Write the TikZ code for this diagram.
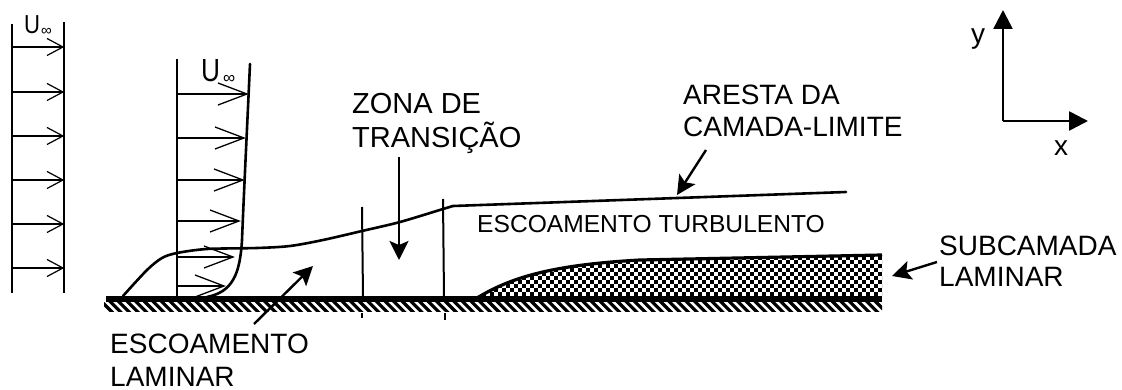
\documentclass[tikz,border=0pt]{standalone}
\usepackage{fontspec}
\setmainfont{Liberation Sans}
\usetikzlibrary{arrows.meta}
\tikzset{
  lbl/.style={inner sep=0pt,anchor=base west,align=left,font=\fontsize{28}{32}\selectfont},
  small/.style={inner sep=0pt,anchor=base west,font=\fontsize{24.6}{28}\selectfont},
  zone/.style={inner sep=0pt,anchor=base west,font=\fontsize{29}{33}\selectfont},
  inf/.style={inner sep=0pt,anchor=base west,font=\fontsize{15}{15}\selectfont},
  frame/.style={line width=2pt},
  flow/.style={line width=1.2pt},
  flowb/.style={line width=1.3pt},
  curve/.style={line width=2.6pt,line cap=round},
  pointer/.style={line width=2.4pt,-{Stealth[length=19pt,width=19pt,inset=4pt]}},
  axis/.style={line width=2.6pt,-{Triangle[length=19pt,width=19pt]}}
}
\begin{document}
\begin{tikzpicture}[x=1pt,y=-1pt]
\useasboundingbox (0,0) rectangle (1122,390);
% left free-stream profile
\draw[frame] (12,24) -- (12,293);
\draw[frame] (64,22) -- (64,293);
\foreach \yy in {47,92,136,180,224,268}{
  \draw[flow] (12,\yy) -- (63,\yy);
  \draw[flow] (47,\yy-8.5) -- (63,\yy) -- (47,\yy+8.5);
}
\node[inner sep=0pt,anchor=base west,font=\fontsize{26}{26}\selectfont] (u1) at (24,34) {\scalebox{.85}[1]{U}};
\node[inf] (u1i) at (41,36) {∞};
% developing profile
\draw[frame] (176.5,59) -- (176.5,297);
\draw[curve] (250,64) .. controls (247,130) and (244,190) .. (242,240) .. controls (240,275) and (232,292) .. (207,297);
\foreach \yy/\xe in {94/247,138/244,180/243,221/239,257/233,286/224}{
  \draw[flowb] (176,\yy) -- (\xe,\yy);
  \draw[flowb] (\xe-29,\yy-11) -- (\xe,\yy) -- (\xe-29,\yy+11);
}
\node[inner sep=0pt,anchor=base west,font=\fontsize{32}{32}\selectfont] (u2) at (201,82) {\scalebox{.82}[1]{U}};
\node[inner sep=0pt,anchor=base west,font=\fontsize{17}{17}\selectfont] (u2i) at (223,84) {∞};
% boundary-layer edge
\draw[curve] plot[smooth,tension=.5] coordinates {(123,296) (147,270) (162,258) (177,253) (207,249) (257,248) (290,246) (323,240) (362,231) (400,222) (443,209) (453,206)} -- (846,192);
% transition verticals
\draw[frame] (362,207) -- (363,297);
\draw[frame] (443,199) -- (444,297);
\draw[frame] (362,313) -- (362,318);
\draw[frame] (445,313) -- (445,320);
% checker layer
\begin{scope}
\clip (477,298) .. controls (510,278) and (550,265) .. (640,260) -- (882,255) -- (882,298) -- cycle;
\foreach \i in {0,...,13}{
  \pgfmathtruncatemacro{\off}{mod(\i,2)}
  \ifnum\off=0
    \draw[line width=4pt,dash pattern=on 4pt off 4pt] (470,{250+4*\i}) -- (884,{250+4*\i});
  \else
    \draw[line width=4pt,dash pattern=on 4pt off 4pt,dash phase=4pt] (470,{250+4*\i}) -- (884,{250+4*\i});
  \fi
}
\end{scope}
\draw[line width=3.2pt] (477,298) .. controls (510,278) and (550,265) .. (640,260) -- (882,255);
% wall
\fill (106,296) rectangle (882,302);
\begin{scope}
\clip (104,302) rectangle (882,311);
\foreach \xx in {100,108.6,...,892}
  \draw[line width=3.2pt] (\xx,300) -- (\xx+13,313);
\end{scope}
% labels
\node[lbl] (a1) at (683,105) {ARESTA DA};
\node[lbl] (a2) at (683,137) {CAMADA-LIMITE};
\node[zone] (z1) at (352,114) {ZONA DE};
\node[zone] (z2) at (352,148) {TRANSIÇÃO};
\node[small] (et) at (477,233) {ESCOAMENTO TURBULENTO};
\node[lbl] (el) at (110,353) {ESCOAMENTO};
\node[lbl] (l2) at (110,386) {LAMINAR};
\node[lbl] (s1) at (939,255) {SUBCAMADA};
\node[lbl] (s2) at (939,287) {LAMINAR};
\node[lbl] (yl) at (971,44) {y};
\node[lbl] (xl) at (1054,156) {x};
% axes
\coordinate (o) at (1003,121);
\coordinate (ya) at (1003,10);
\coordinate (xa) at (1088,121);
\draw[axis] (o) -- (ya);
\draw[axis] (o) -- (xa);
% pointers
\coordinate (p1s) at (254,324); \coordinate (p1e) at (313,266);
\draw[pointer] (p1s) -- (p1e);
\coordinate (p2s) at (399,157); \coordinate (p2e) at (399,260);
\draw[pointer] (p2s) -- (p2e);
\coordinate (p3s) at (706,150); \coordinate (p3e) at (677,195);
\draw[pointer] (p3s) -- (p3e);
\coordinate (p4s) at (937,262); \coordinate (p4e) at (892,276);
\draw[pointer] (p4s) -- (p4e);
\end{tikzpicture}
\end{document}
